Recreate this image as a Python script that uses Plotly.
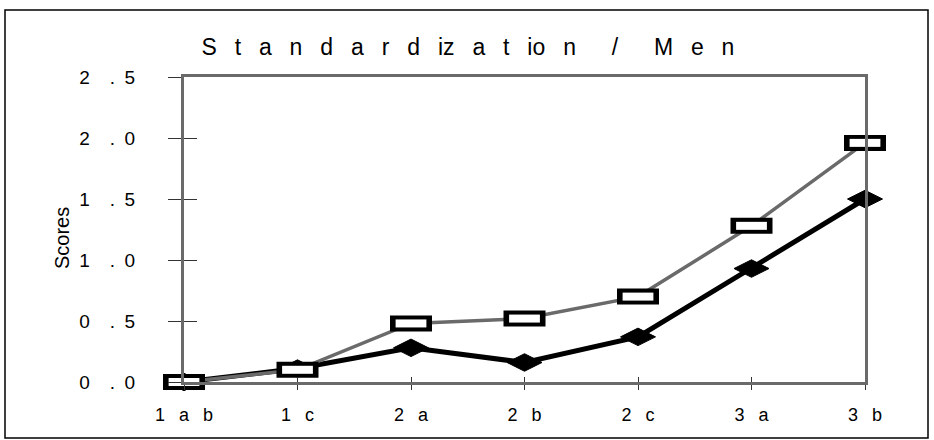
import plotly.graph_objects as go

# ---- data ----
categories = ["1ab", "1c", "2a", "2b", "2c", "3a", "3b"]
x_tick_labels = ["1 a b", "1 c", "2 a", "2 b", "2 c", "3 a", "3 b"]
open_rect_scores = [0.0, 0.10, 0.48, 0.52, 0.70, 1.28, 1.96]
filled_diamond_scores = [0.0, 0.11, 0.28, 0.16, 0.37, 0.93, 1.50]
y_tick_values = [0.0, 0.5, 1.0, 1.5, 2.0, 2.5]
y_tick_labels = ["0 . 0", "0 . 5", "1 . 0", "1 . 5", "2 . 0", "2 . 5"]
title_text = "S t a n d a r d iz a t io n  /  M e n"
y_title = "Scores"

FONT = "Liberation Sans, Arial, Helvetica, sans-serif"
W, H = 934, 440
L, R, T, B = 184, 69, 77, 58
PW, PH = W - L - R, H - T - B


def spread(s, gap):
    # replace each ordinary space by a wider gap (keeps text as real text)
    return s.replace(" ", gap)


title_disp = spread(title_text, "\u2002\u00a0")
x_disp = [spread(t, "\u2002\u00a0") for t in x_tick_labels]
y_disp = [t.replace(" . ", "\u2002\u00a0\u00a0.\u2002") for t in y_tick_labels]

fig = go.Figure()

# filled diamond series (black, thick)
fig.add_trace(go.Scatter(
    x=categories, y=filled_diamond_scores, mode="lines+markers",
    line=dict(color="#000000", width=5),
    marker=dict(symbol="diamond-wide", size=25, color="#000000",
                line=dict(color="#000000", width=1)),
    cliponaxis=False, showlegend=False, hoverinfo="skip"))

# open rectangle series (gray line)
fig.add_trace(go.Scatter(
    x=categories, y=open_rect_scores, mode="lines",
    line=dict(color="#6a6a6a", width=3.5),
    cliponaxis=False, showlegend=False, hoverinfo="skip"))
# rectangle marker: black bar then white inner bar
fig.add_trace(go.Scatter(
    x=categories, y=open_rect_scores, mode="markers",
    marker=dict(symbol="line-ew", size=30, color="#000000",
                line=dict(color="#000000", width=16)),
    cliponaxis=False, showlegend=False, hoverinfo="skip"))
fig.add_trace(go.Scatter(
    x=categories, y=open_rect_scores, mode="markers",
    marker=dict(symbol="line-ew", size=22, color="#ffffff",
                line=dict(color="#ffffff", width=8)),
    cliponaxis=False, showlegend=False, hoverinfo="skip"))

# dummy trace for the overlay axes (inner halves of the ticks)
fig.add_trace(go.Scatter(x=[None], y=[None], xaxis="x2", yaxis="y2",
                         showlegend=False, hoverinfo="skip"))

tick_color = "#333333"
fig.update_layout(
    width=W, height=H,
    margin=dict(l=L, r=R, t=T, b=B),
    paper_bgcolor="white", plot_bgcolor="white",
    font=dict(family=FONT, color="#000000"),
    title=dict(text=title_disp, x=0.501, xanchor="center",
               y=1 - 47 / H, yanchor="middle", yref="container",
               font=dict(family=FONT, size=23, color="#000000")),
    xaxis=dict(type="category", categoryorder="array", categoryarray=categories,
               range=[0, len(categories) - 1], tickmode="array",
               tickvals=categories, ticktext=x_disp,
               ticks="outside", ticklen=5, tickwidth=1, tickcolor=tick_color,
               ticklabelstandoff=9,
               showgrid=False, zeroline=False, showline=True, mirror=True,
               linecolor="#6a6a6a", linewidth=3,
               tickfont=dict(family=FONT, size=18, color="#000000")),
    yaxis=dict(range=[0, 2.5], tickmode="array", tickvals=y_tick_values,
               ticktext=y_disp, ticks="outside", ticklen=13, tickwidth=1,
               tickcolor=tick_color, ticklabelstandoff=29,
               showgrid=False, zeroline=False, showline=True, mirror=True,
               linecolor="#6a6a6a", linewidth=3,
               tickfont=dict(family=FONT, size=19, color="#000000")),
    xaxis2=dict(overlaying="x", anchor="y", range=[0, len(categories) - 1],
                tickmode="array", tickvals=list(range(len(categories))),
                showticklabels=False, ticks="inside", ticklen=5, tickwidth=1,
                tickcolor=tick_color, showgrid=False, zeroline=False,
                showline=False, fixedrange=True),
    yaxis2=dict(overlaying="y", anchor="x", range=[0, 2.5], tickmode="array",
                tickvals=y_tick_values, showticklabels=False, ticks="inside",
                ticklen=13, tickwidth=1, tickcolor=tick_color, showgrid=False,
                zeroline=False, showline=False, fixedrange=True),
    annotations=[dict(text=y_title, textangle=-90, showarrow=False,
                      xref="paper", yref="paper",
                      x=(62 - L) / PW, y=(H - B - 238) / PH,
                      xanchor="center", yanchor="middle",
                      font=dict(family=FONT, size=20, color="#000000"))],
    shapes=[dict(type="rect", xref="paper", yref="paper",
                 x0=(5 - L) / PW, x1=(928 - L) / PW,
                 y0=(H - B - 438) / PH, y1=(H - B - 10) / PH,
                 line=dict(color="#000000", width=1.5), layer="below")],
)

fig.write_html("out.html")
